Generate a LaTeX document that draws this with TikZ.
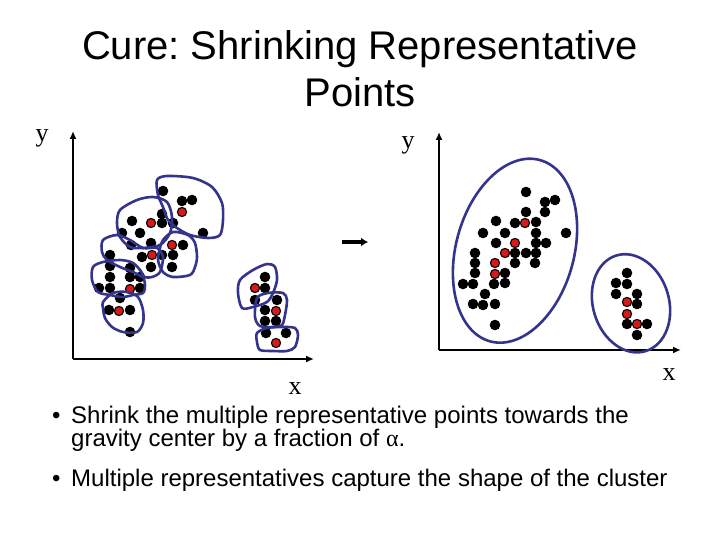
\documentclass[tikz,border=0pt]{standalone}
\usepackage{fontspec}
\setmainfont{Liberation Sans}
\newfontfamily\axisfont{Liberation Serif}
\usetikzlibrary{arrows.meta}
\frenchspacing

\definecolor{hullblue}{RGB}{52,52,140}
\definecolor{repred}{RGB}{215,25,25}

\tikzset{
  blackdot/.style={fill=black},
  repdot/.style={fill=repred, draw=black, line width=1.1pt},
  hull/.style={draw=hullblue, line width=2.6pt},
  axis/.style={line width=1.8pt, -{Latex[length=8pt,width=7pt]}},
  axislabel/.style={font=\axisfont\fontsize{26}{30}\selectfont, inner sep=0pt},
  bullettext/.style={font=\fontsize{24}{23}\selectfont, anchor=base west, inner sep=0pt},
}

\begin{document}
\begin{tikzpicture}[x=1pt, y=-1pt]
    \useasboundingbox (0,0) rectangle (720,540);

    % Title
    \node[font=\fontsize{40}{48}\selectfont, anchor=base, inner sep=0pt] (title1) at (360,60) {Cure: Shrinking Representative};
    \node[font=\fontsize{40}{48}\selectfont, anchor=base, inner sep=0pt] (title2) at (360,107) {Points};

    % Left plot: axes
    \coordinate (lo) at (73,359);
    \coordinate (ly) at (73,131);
    \coordinate (lx) at (314,359);
    \draw[axis] (lo) -- (ly);
    \draw[axis] (lo) -- (lx);
    \node[axislabel] (lylab) at (42,138) {y};
    \node[axislabel] (lxlab) at (295,389) {x};

    % Left plot: points
    \foreach \x/\y in {163/191, 182/201, 192/200, 203/233,
        132/221, 162/214, 162/223, 140/233, 173/223, 122/233,
        131/245, 151/243, 142/257, 162/255, 151/267, 110/255,
        183/245, 173/255, 172/267,
        110/266, 110/277, 99/288, 110/288, 130/277, 140/277, 140/288, 130/268,
        120/298, 109/310, 130/310, 130/332,
        265/277, 265/288, 255/300,
        277/300, 265/310, 265/321, 276/321,
        266/333, 286/333}
        \fill[blackdot] (\x,\y) circle[radius=5.3];
    \foreach \x/\y in {182/212, 151/223, 152/255, 172/245, 130/289, 119/311, 255/288, 276/311, 276/343}
        \filldraw[repdot] (\x,\y) circle[radius=4.6];

    % Left plot: scattered representatives
    \draw[hull] plot[smooth cycle] coordinates {(157,180) (167,176) (193,178) (212,187) (222,203) (223,220) (220,235) (208,238) (190,235) (177,228) (168,220) (163,207) (158,195)};
    \draw[hull] plot[smooth cycle] coordinates {(120,210) (137,200) (153,197) (167,202) (172,217) (170,233) (160,245) (143,248) (130,247) (120,237) (117,223)};
    \draw[hull] plot[smooth cycle] coordinates {(103,240) (117,235) (130,240) (143,248) (157,248) (163,257) (160,272) (152,277) (143,277) (133,272) (120,267) (107,260) (102,252)};
    \draw[hull] plot[smooth cycle] coordinates {(163,240) (173,232) (188,235) (195,243) (197,257) (195,267) (190,275) (173,277) (163,272) (158,260) (160,248)};
    \draw[hull] plot[smooth cycle] coordinates {(93,267) (103,262) (120,260) (133,263) (142,273) (145,285) (143,293) (133,295) (123,297) (110,295) (98,292) (92,280)};
    \draw[hull] plot[smooth cycle] coordinates {(103,302) (113,293) (127,292) (138,297) (143,310) (143,323) (137,332) (123,332) (112,327) (105,318) (103,308)};
    \draw[hull] plot[smooth cycle] coordinates {(240,280) (253,270) (267,264) (275,267) (277,280) (273,293) (267,302) (253,307) (242,308) (238,293)};
    \draw[hull] plot[smooth cycle] coordinates {(257,298) (268,293) (283,293) (287,300) (285,315) (282,325) (273,327) (260,326) (255,317)};
    \draw[hull] plot[smooth cycle] coordinates {(257,333) (267,328) (283,327) (295,328) (298,335) (295,347) (287,351) (273,351) (260,350) (257,342)};

    % Shrink step
    \coordinate (ma) at (342,242);
    \coordinate (mb) at (368,242);
    \draw[line width=3.5pt, -{Latex[length=7pt,width=9pt]}] (ma) -- (mb);

    % Right plot: axes
    \coordinate (ro) at (439,350);
    \coordinate (ry) at (439,132);
    \coordinate (rx) at (681,350);
    \draw[axis] (ro) -- (ry);
    \draw[axis] (ro) -- (rx);
    \node[axislabel] (rylab) at (408,145) {y};
    \node[axislabel] (rxlab) at (669,375) {x};

    % Right plot: points
    \foreach \x/\y in {526/192, 545/202, 555/200, 545/212, 526/212, 515/223, 536/222, 496/221,
        483/233, 505/233, 536/233, 566/233, 496/243, 536/243, 546/243,
        475/253, 515/253, 526/253, 536/253, 475/263, 515/263, 535/263,
        475/273, 505/273, 463/284, 473/284, 494/284, 505/283, 485/294,
        473/304, 483/305, 495/304, 495/325,
        627/273, 616/283, 627/284, 616/294, 637/294, 637/304, 627/324, 647/324, 637/335}
        \fill[blackdot] (\x,\y) circle[radius=5.3];
    \foreach \x/\y in {525/223, 515/243, 505/253, 495/263, 495/274, 627/302, 627/314, 637/324}
        \filldraw[repdot] (\x,\y) circle[radius=4.6];

    % Right plot: clusters
    \draw[hull, rotate around={74.6:(515,250.7)}] (515,250.7) ellipse [x radius=94, y radius=59];
    \draw[hull, rotate around={107:(631,303.3)}] (631,303.3) ellipse [x radius=50, y radius=38];

    % Bullets
    \node[bullettext] (b1dot) at (52,423.5) {\textbullet};
    \node[bullettext] (b1a) at (71,423.5) {Shrink the multiple representative points towards the};
    \node[bullettext] (b1b) at (71,446.5) {gravity center by a fraction of {\axisfont α}.};
    \node[bullettext] (b2dot) at (52,486) {\textbullet};
    \node[bullettext] (b2) at (71,486) {Multiple representatives capture the shape of the cluster};

\end{tikzpicture}
\end{document}
